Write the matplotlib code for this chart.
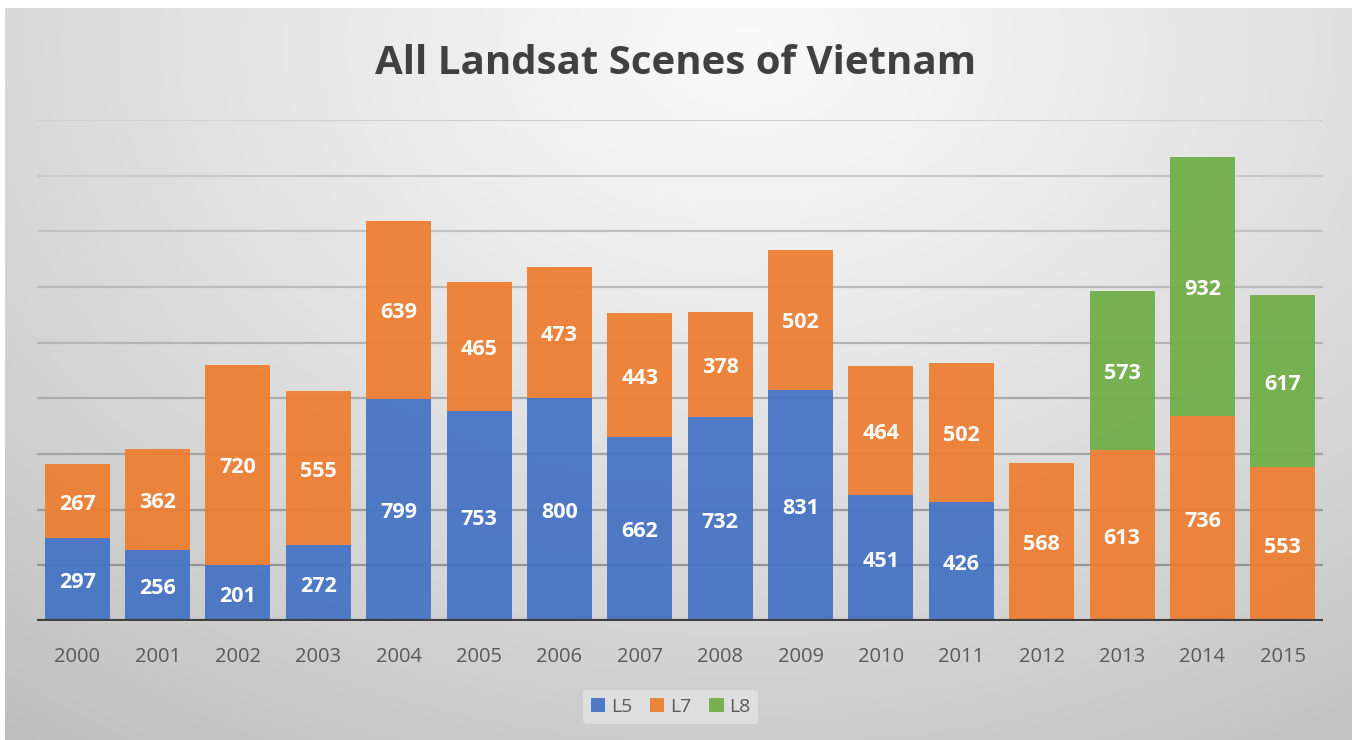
import numpy as np
import matplotlib.pyplot as plt
from matplotlib.transforms import offset_copy

years = [str(y) for y in range(2000, 2016)]
l5 = [297, 256, 201, 272, 799, 753, 800, 662, 732, 831, 451, 426, 0, 0, 0, 0]
l7 = [267, 362, 720, 555, 639, 465, 473, 443, 378, 502, 464, 502, 568, 613, 736, 553]
l8 = [0, 0, 0, 0, 0, 0, 0, 0, 0, 0, 0, 0, 0, 573, 932, 617]

colors = {"L5": "#4472C4", "L7": "#ED7D31", "L8": "#70AD47"}

plt.rcParams["font.family"] = ["Open Sans", "DejaVu Sans"]

fig = plt.figure(figsize=(13.52, 7.4), dpi=100)

# gradient background panel
bg = fig.add_axes([5 / 1352, 0, 1 - 5 / 1352, 1 - 8 / 740])
h, w = 300, 550
yy, xx = np.mgrid[0:h, 0:w]
cx, cy = 0.55 * w, 0.05 * h
d = np.sqrt(((xx - cx) / w) ** 2 + ((yy - cy) / h * 0.75) ** 2)
d = d / d.max()
shade = 0.975 - 0.23 * d ** 1.2
bg.imshow(np.dstack([shade] * 3), aspect="auto", extent=[0, 1, 0, 1])
bg.set_axis_off()

ax = fig.add_axes([37 / 1352, 1 - 621 / 740, (1323 - 37) / 1352, (621 - 120) / 740])
ax.patch.set_alpha(0)

x = np.arange(len(years))
bot7 = np.array(l5)
bot8 = bot7 + np.array(l7)
width = 0.81

ax.set_xlim(-0.5, len(years) - 0.5)
ax.set_ylim(0, 1800)
for g in range(200, 1801, 200):
    c = 0.55 + 0.27 * (g / 1800)
    ax.axhline(g, color=(c, c, c), lw=1.6, zorder=0)

label_tr = offset_copy(ax.transData, fig=fig, x=0, y=-3, units="dots")
for name, vals, bottom in [("L5", l5, 0), ("L7", l7, bot7), ("L8", l8, bot8)]:
    bars = ax.bar(x, vals, width, bottom=bottom, color=colors[name], alpha=0.93,
                  label=name, zorder=2)
    for b, v in zip(bars, vals):
        if v > 0:
            ax.text(b.get_x() + b.get_width() / 2, b.get_y() + v / 2, str(v),
                    ha="center", va="center", color="white", fontsize=15.5,
                    fontweight="bold", zorder=3, transform=label_tr)

ax.axhline(0, color="#404040", lw=3, zorder=4)
ax.set_yticks([])
ax.set_xticks(x)
ax.set_xticklabels(years, fontsize=14.5, color="#595959")
ax.tick_params(axis="x", length=0, pad=19)
for s in ax.spines.values():
    s.set_visible(False)

fig.text(0.5, 1 - 63 / 740, "All Landsat Scenes of Vietnam", ha="center", va="center",
         fontsize=29, fontweight="bold", color="#404040")

leg = fig.legend(loc="center", bbox_to_anchor=(0.496, 1 - 707 / 740), ncol=3,
                 frameon=True, fontsize=14, handlelength=0.75, handleheight=0.75,
                 handletextpad=0.3, columnspacing=0.9, borderpad=0.4)
leg.get_frame().set_facecolor("#e6e6e6")
leg.get_frame().set_edgecolor("none")
leg.get_frame().set_alpha(0.7)
for t in leg.get_texts():
    t.set_color("#595959")

fig.savefig("out.png", dpi=100)
